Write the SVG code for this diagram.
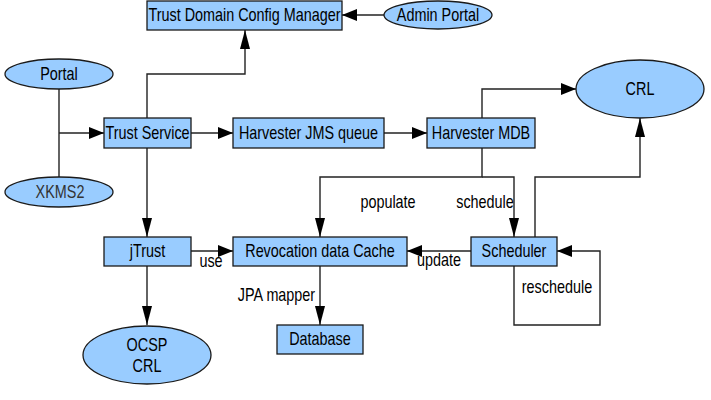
<svg xmlns="http://www.w3.org/2000/svg" width="711" height="400" viewBox="0 0 711 400">
<style>
.n{fill:#99ccff;stroke:#1a1a1a;stroke-width:1.3}
.t{font-family:"Liberation Sans",Arial,sans-serif;font-size:18px;fill:#000;text-anchor:middle}
.c{fill:none;stroke:#222;stroke-width:1.4}
</style>
<defs>
<marker id="ah" markerUnits="userSpaceOnUse" markerWidth="15" markerHeight="12" refX="15" refY="6" orient="auto"><path d="M0,0 L15,6 L0,12 Z" fill="#000"/></marker>
<marker id="av" markerUnits="userSpaceOnUse" markerWidth="19" markerHeight="10" refX="19" refY="5" orient="auto"><path d="M0,0 L19,5 L0,10 Z" fill="#000"/></marker>
</defs>
<rect width="711" height="400" fill="#fff"/>
<g id="connectors">
<path class="c" d="M384,15 H342" marker-end="url(#ah)"/>
<path class="c" d="M147,118 V74 H245 V30" marker-end="url(#av)"/>
<path class="c" d="M59,89 V177"/>
<path class="c" d="M59,133 H104" marker-end="url(#ah)"/>
<path class="c" d="M191,133 H233" marker-end="url(#ah)"/>
<path class="c" d="M384,133 H427" marker-end="url(#ah)"/>
<path class="c" d="M482,118 V89 H576" marker-end="url(#ah)"/>
<path class="c" d="M482,148 V177 H320 V237" marker-end="url(#av)"/>
<path class="c" d="M482,177 H514 V237" marker-end="url(#av)"/>
<path class="c" d="M535,237 V177 H640 V118" marker-end="url(#av)"/>
<path class="c" d="M147,148 V237" marker-end="url(#av)"/>
<path class="c" d="M191,251 H233" marker-end="url(#ah)"/>
<path class="c" d="M471,251 H407" marker-end="url(#ah)"/>
<path class="c" d="M320,266 V325" marker-end="url(#av)"/>
<path class="c" d="M147,266 V325" marker-end="url(#av)"/>
<path class="c" d="M514,266 V325 H600 V251 H557" marker-end="url(#ah)"/>
<text class="t" transform="translate(388,208) scale(0.8,1)">populate</text>
<text class="t" transform="translate(485,208) scale(0.8,1)">schedule</text>
<text class="t" transform="translate(211,267) scale(0.8,1)">use</text>
<text class="t" transform="translate(439,266) scale(0.8,1)">update</text>
<text class="t" transform="translate(276.5,301) scale(0.8,1)">JPA mapper</text>
<text class="t" transform="translate(557,293) scale(0.8,1)">reschedule</text>
</g>
<g id="tdcm"><rect class="n" x="147" y="1" width="195" height="29"/><text class="t" transform="translate(244.5,20.5) scale(0.8,1)">Trust Domain Config Manager</text></g>
<g id="admin-portal"><ellipse class="n" cx="438" cy="15" rx="54" ry="14"/><text class="t" transform="translate(438,21) scale(0.8,1)">Admin Portal</text></g>
<g id="portal"><ellipse class="n" cx="59" cy="74" rx="54" ry="15"/><text class="t" transform="translate(59,80) scale(0.8,1)">Portal</text></g>
<g id="xkms2"><ellipse class="n" cx="59" cy="192" rx="54" ry="15"/><text class="t" transform="translate(60,198) scale(0.8,1)" style="fill:#333">XKMS2</text></g>
<g id="trust-service"><rect class="n" x="104" y="118" width="87" height="30"/><text class="t" transform="translate(147.5,138.5) scale(0.8,1)">Trust Service</text></g>
<g id="jms-queue"><rect class="n" x="233" y="118" width="151" height="30"/><text class="t" transform="translate(308.5,138.5) scale(0.8,1)">Harvester JMS queue</text></g>
<g id="harvester-mdb"><rect class="n" x="427" y="118" width="108" height="30"/><text class="t" transform="translate(481,138.5) scale(0.8,1)">Harvester MDB</text></g>
<g id="crl"><ellipse class="n" cx="640" cy="89" rx="64" ry="29"/><text class="t" transform="translate(640,95) scale(0.8,1)">CRL</text></g>
<g id="jtrust"><rect class="n" x="104" y="237" width="87" height="29"/><text class="t" transform="translate(147.5,257) scale(0.8,1)">jTrust</text></g>
<g id="revocation-cache"><rect class="n" x="233" y="237" width="174" height="29"/><text class="t" transform="translate(320,257) scale(0.8,1)">Revocation data Cache</text></g>
<g id="scheduler"><rect class="n" x="471" y="237" width="86" height="29"/><text class="t" transform="translate(514,257) scale(0.8,1)">Scheduler</text></g>
<g id="database"><rect class="n" x="277" y="325" width="86" height="29"/><text class="t" transform="translate(320,345) scale(0.8,1)">Database</text></g>
<g id="ocsp-crl"><ellipse class="n" cx="147" cy="355" rx="64" ry="29"/><text class="t" transform="translate(147,351) scale(0.8,1)">OCSP</text><text class="t" transform="translate(147,372) scale(0.8,1)">CRL</text></g>
</svg>
